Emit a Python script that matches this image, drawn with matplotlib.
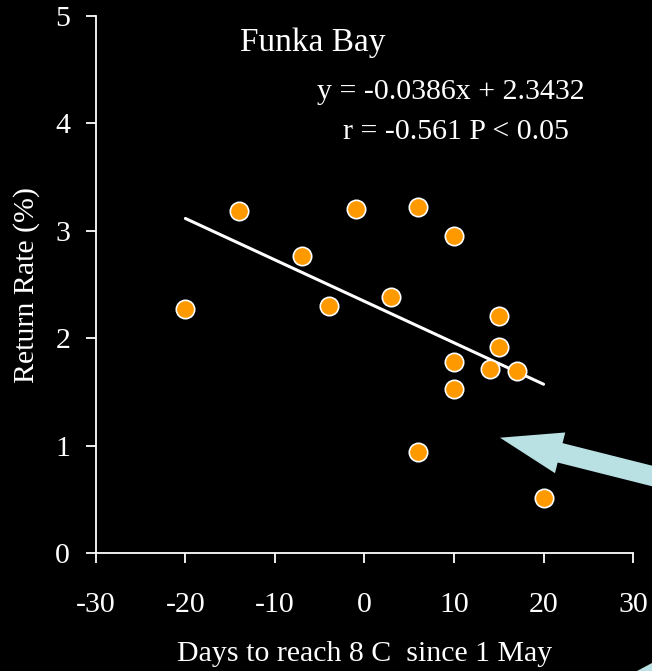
import matplotlib
matplotlib.use("Agg")
import matplotlib.pyplot as plt
from matplotlib.patches import FancyArrow, Polygon

# data
days = [-20, -14, -7, -4, -1, 3, 6, 6, 10, 10, 10, 15, 15, 14, 17, 20]
rate = [2.27, 3.18, 2.77, 2.30, 3.20, 2.38, 3.22, 0.94, 2.95, 1.78, 1.53,
        2.21, 1.92, 1.71, 1.69, 0.51]
slope = -0.0386
intercept = 2.3432
fit_x = [-20, 20]
x_ticks = [-30, -20, -10, 0, 10, 20, 30]
y_ticks = [0, 1, 2, 3, 4, 5]

plt.rcParams['font.family'] = ['Liberation Serif', 'DejaVu Serif']
plt.rcParams['axes.unicode_minus'] = False
fg = 'white'
fs = 21.5

fig = plt.figure(figsize=(6.52, 6.71), dpi=100, facecolor='black')
ax = fig.add_axes([0.147, 0.176, 0.824, 0.800], facecolor='black')

fit_y = [slope * v + intercept for v in fit_x]
ax.plot(fit_x, fit_y, color=fg, lw=2.2, solid_capstyle='round', zorder=2)
ax.scatter(days, rate, s=175, color='#FF9900', edgecolor=fg, linewidth=1.2, zorder=3)

ax.set_xlim(-30, 30)
ax.set_ylim(0, 5)
ax.set_xticks(x_ticks)
ax.set_yticks(y_ticks)
for s in ['top', 'right']:
    ax.spines[s].set_visible(False)
for s in ['left', 'bottom']:
    ax.spines[s].set_color(fg)
    ax.spines[s].set_linewidth(1.3)
ax.tick_params(colors=fg, labelsize=fs, width=1.3, length=7.5, direction='out')
ax.tick_params(axis='x', pad=21)
ax.tick_params(axis='y', pad=11)

ax.set_xlabel('Days to reach 8 C  since 1 May', color=fg, fontsize=fs, labelpad=16)
ax.set_ylabel('Return Rate (%)', color=fg, fontsize=fs, labelpad=11)

ax.text(0.404, 0.950, 'Funka Bay', transform=ax.transAxes, color=fg, fontsize=24,
        ha='center', va='center')
ax.text(0.661, 0.858, 'y = -0.0386x + 2.3432', transform=ax.transAxes, color=fg,
        fontsize=fs, ha='center', va='center')
ax.text(0.670, 0.784, 'r = -0.561 P < 0.05', transform=ax.transAxes, color=fg,
        fontsize=fs, ha='center', va='center')

arrow_col = '#B9E0E3'
fig.add_artist(FancyArrow(6.80, 1.88, -1.80, 0.453, width=0.20, head_width=0.42,
                          head_length=0.62, length_includes_head=True,
                          color=arrow_col, lw=0, transform=fig.dpi_scale_trans,
                          clip_on=False))
fig.add_artist(Polygon([(6.37, 0.0), (6.52, 0.08), (6.52, 0.0)], closed=True,
                       color=arrow_col, lw=0, transform=fig.dpi_scale_trans))

fig.savefig('out.png', dpi=100, facecolor='black')
